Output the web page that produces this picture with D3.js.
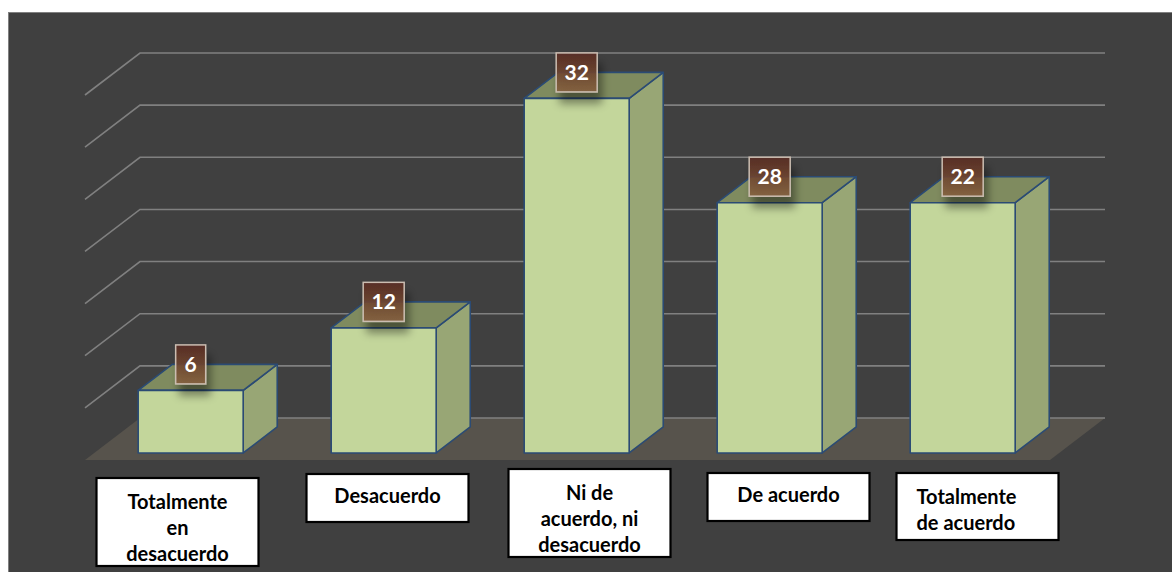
<!DOCTYPE html>
<html>
<head>
<meta charset="utf-8">
<script src="https://cdn.jsdelivr.net/npm/d3@7"></script>
<style>
  html, body { margin: 0; padding: 0; background: #fff; }
  svg { display: block; }
  .cat { font-family: Lato, "Open Sans", sans-serif; font-weight: bold; font-size: 20px; fill: #000; }
  .val { font-family: Lato, "Open Sans", sans-serif; font-weight: bold; font-size: 21px; fill: #fff; }
</style>
</head>
<body>
<svg width="1172" height="572"></svg>
<script>
// data
const categories = ["Totalmente en desacuerdo", "Desacuerdo", "Ni de acuerdo, ni desacuerdo", "De acuerdo", "Totalmente de acuerdo"];
const categoryLines = [["Totalmente", "en", "desacuerdo"], ["Desacuerdo"], ["Ni de", "acuerdo, ni", "desacuerdo"], ["De acuerdo"], ["Totalmente", "de acuerdo"]];
const barHeights = [6, 12, 34, 24, 24];
const dataLabels = ["6", "12", "32", "28", "22"];
const yTicks = [0, 5, 10, 15, 20, 25, 30, 35];

const svg = d3.select("svg");

//* layout
const depth = { dx: 55, dy: -42 };
const zFront = 0.167, zBack = 0.786;

const x = d3.scaleBand().domain(categories).range([85, 1050]).paddingInner(0.456).paddingOuter(0.228);
const y = d3.scaleLinear().domain([0, 35]).range([418, 53]);

// front-plane x, value, depth (0 front .. 1 back) -> screen point
const proj = (px, v, z) => [px + depth.dx * z, y(v) - depth.dy * (1 - z)];
const poly = (pts) => pts.map((p) => p.join(",")).join(" ");

//* chart area
svg.append("rect")
	.attr("x", 8.5).attr("y", 12.5)
	.attr("width", 1200).attr("height", 600)
	.style("fill", "#404040")
	.style("stroke", "#808080");

//* filters / gradients
const defs = svg.append("defs");
const grad = defs.append("linearGradient").attr("id", "lblGrad").attr("x1", 0).attr("y1", 0).attr("x2", 0).attr("y2", 1);
grad.append("stop").attr("offset", "0%").attr("stop-color", "#5a2b21");
grad.append("stop").attr("offset", "100%").attr("stop-color", "#86613f");
const shadow = defs.append("filter").attr("id", "shadow").attr("x", "-50%").attr("y", "-50%").attr("width", "200%").attr("height", "220%");
shadow.append("feDropShadow").attr("dx", 4).attr("dy", 11).attr("stdDeviation", 4)
	.attr("flood-color", "#000").attr("flood-opacity", 0.45);

//* floor
const [r0, r1] = x.range();
svg.append("polygon")
	.attr("points", poly([proj(r0, 0, 0), proj(r1, 0, 0), proj(r1, 0, 1), proj(r0, 0, 1)]))
	.style("fill", "#57534c");

//* gridlines
const grid = svg.append("g").style("stroke", "#808080").style("stroke-width", 1.6).style("fill", "none");
grid.selectAll("polyline")
	.data(yTicks)
	.enter()
	.append("polyline")
	.attr("points", (t) => poly(t === 0
		? [proj(r0, t, 1), proj(r1, t, 1)]
		: [proj(r0, t, 0), proj(r0, t, 1), proj(r1, t, 1)]));

//* bars
const bars = svg.selectAll("g.bar")
	.data(categories.map((c, i) => ({ c, v: barHeights[i], label: dataLabels[i], lines: categoryLines[i] })))
	.enter()
	.append("g")
	.attr("class", "bar")
	.style("stroke", "#2b4b74")
	.style("stroke-width", 1.6)
	.style("stroke-linejoin", "round");

const xl = (d) => x(d.c);
const xr = (d) => x(d.c) + x.bandwidth();

bars.append("polygon") // side
	.attr("points", (d) => poly([proj(xr(d), d.v, zFront), proj(xr(d), d.v, zBack), proj(xr(d), 0, zBack), proj(xr(d), 0, zFront)]))
	.style("fill", "#98a675");
bars.append("polygon") // top
	.attr("points", (d) => poly([proj(xl(d), d.v, zFront), proj(xr(d), d.v, zFront), proj(xr(d), d.v, zBack), proj(xl(d), d.v, zBack)]))
	.style("fill", "#7f8b5f");
bars.append("polygon") // front
	.attr("points", (d) => poly([proj(xl(d), d.v, zFront), proj(xr(d), d.v, zFront), proj(xr(d), 0, zFront), proj(xl(d), 0, zFront)]))
	.style("fill", "#c3d69b");

//* value labels
const labels = svg.selectAll("g.val")
	.data(bars.data())
	.enter()
	.append("g")
	.attr("class", "val")
	.attr("transform", (d) => {
		const cx = proj(x(d.c) + x.bandwidth() / 2, d.v, zFront)[0];
		const cy = proj(0, d.v, zBack)[1];
		return `translate(${cx}, ${cy})`;
	});
labels.append("rect")
	.attr("x", (d) => (d.label.length > 1 ? -20.5 : -15))
	.attr("y", -19.5)
	.attr("width", (d) => (d.label.length > 1 ? 41 : 30))
	.attr("height", 39)
	.attr("filter", "url(#shadow)")
	.style("fill", "url(#lblGrad)")
	.style("fill-opacity", 0.88)
	.style("stroke", "#cbbdb1")
	.style("stroke-width", 1.5);
labels.append("text")
	.attr("text-anchor", "middle")
	.attr("dy", "0.36em")
	.text((d) => d.label);

//* category boxes (hand-placed text boxes in the original)
const boxNudge = [-13, 4, 13, 19, 15];
const boxTop = [478, 474, 469, 473, 473];
const boxes = svg.selectAll("g.cat-box")
	.data(bars.data())
	.enter()
	.append("g")
	.attr("class", "cat-box")
	.attr("transform", (d, i) => `translate(${x(d.c) + x.bandwidth() / 2 + 9 + boxNudge[i]}, ${boxTop[i]})`);
boxes.append("rect")
	.attr("x", -81)
	.attr("y", 0)
	.attr("width", 162)
	.attr("height", (d) => (d.lines.length === 1 ? 48 : 25 + 21 * d.lines.length))
	.style("fill", "#fff")
	.style("stroke", "#000")
	.style("stroke-width", 2.2);
boxes.each(function (d, i) {
	const left = i === 4;
	d3.select(this)
		.selectAll("text")
		.data(d.lines)
		.enter()
		.append("text")
		.attr("class", "cat")
		.attr("x", left ? -61 : 0)
		.attr("y", (_, j) => (d.lines.length === 1 ? 22 : 24 + 26 * j))
		.attr("dy", "0.36em")
		.attr("text-anchor", left ? "start" : "middle")
		.text((t) => t);
});
</script>
</body>
</html>
